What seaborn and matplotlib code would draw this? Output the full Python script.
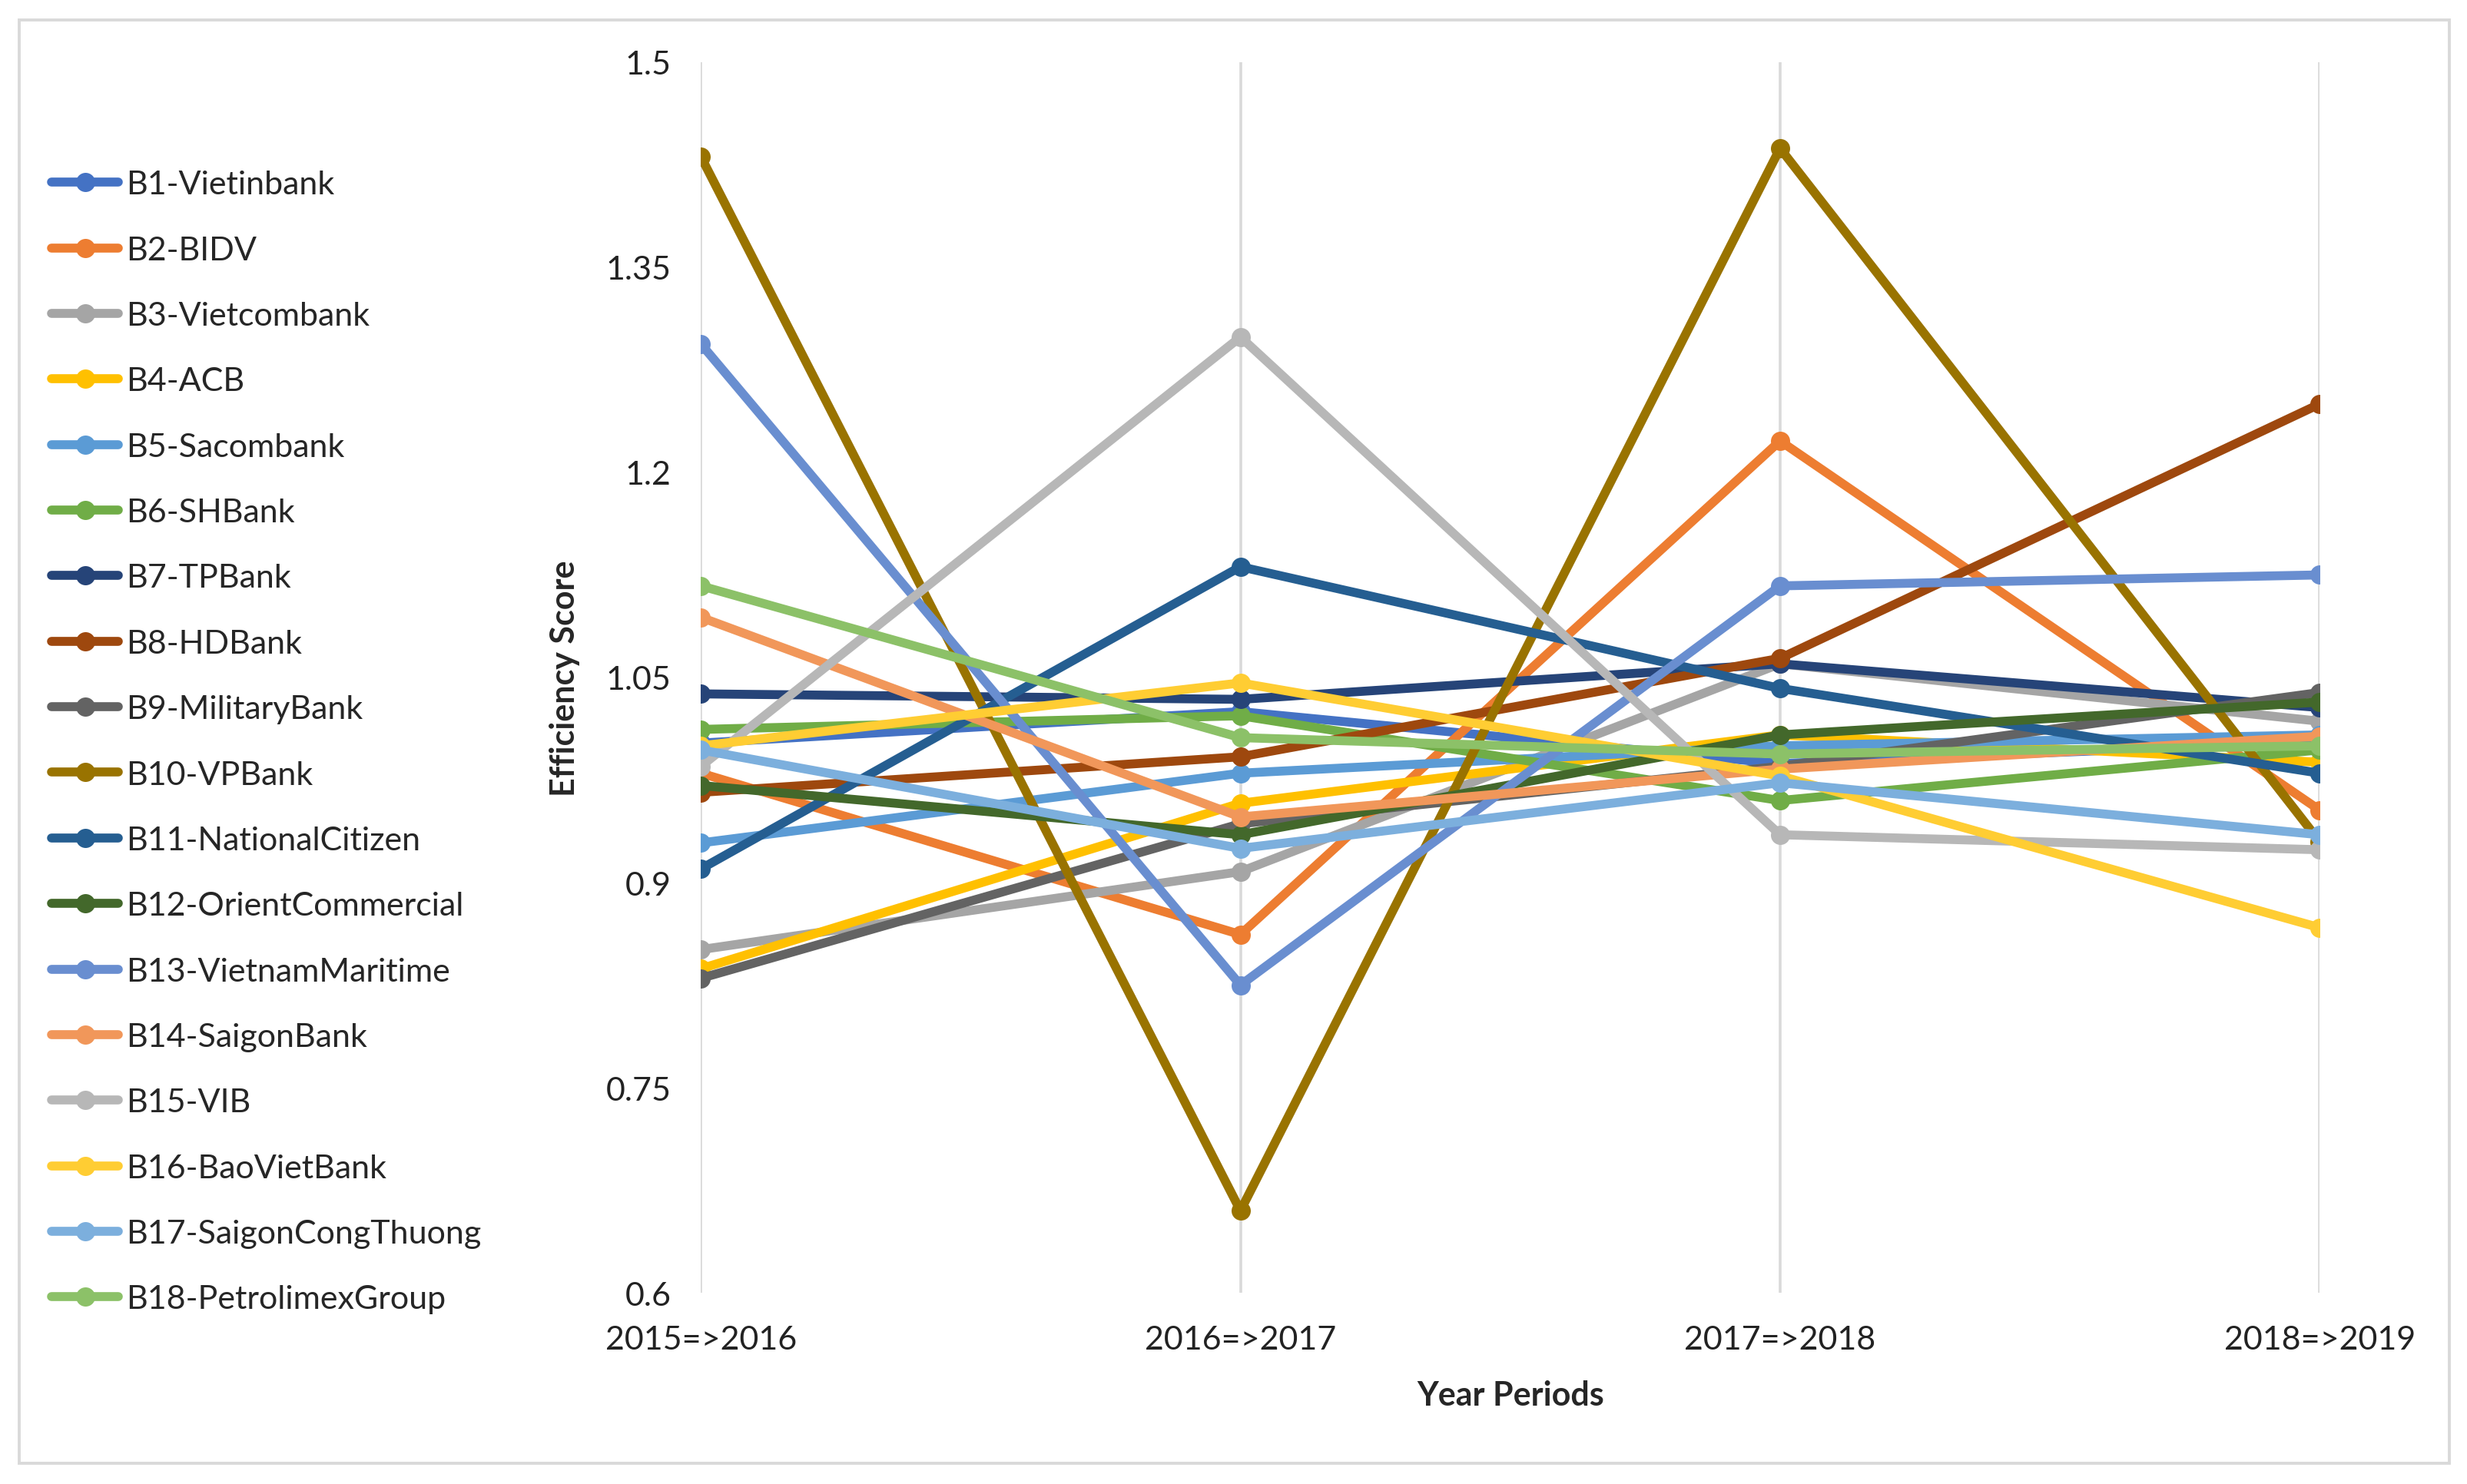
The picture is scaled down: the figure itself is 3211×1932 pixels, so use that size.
import matplotlib
matplotlib.use("Agg")
import matplotlib.pyplot as plt
import seaborn as sns
import pandas as pd
from matplotlib.patches import Rectangle

periods = ["2015=>2016", "2016=>2017", "2017=>2018", "2018=>2019"]
banks = ["B1-Vietinbank", "B2-BIDV", "B3-Vietcombank", "B4-ACB", "B5-Sacombank",
         "B6-SHBank", "B7-TPBank", "B8-HDBank", "B9-MilitaryBank", "B10-VPBank",
         "B11-NationalCitizen", "B12-OrientCommercial", "B13-VietnamMaritime",
         "B14-SaigonBank", "B15-VIB", "B16-BaoVietBank", "B17-SaigonCongThuong",
         "B18-PetrolimexGroup"]

b1 = [1.002, 1.025, 0.987, 1.003]
b2 = [0.980, 0.862, 1.223, 0.953]
b3 = [0.851, 0.908, 1.060, 1.018]
b4 = [0.837, 0.958, 1.008, 0.988]
b5 = [0.929, 0.980, 1.000, 1.008]
b6 = [1.012, 1.022, 0.960, 0.997]
b7 = [1.038, 1.034, 1.060, 1.028]
b8 = [0.966, 0.992, 1.064, 1.250]
b9 = [0.830, 0.943, 0.985, 1.039]
b10 = [1.431, 0.660, 1.437, 0.930]
b11 = [0.910, 1.131, 1.042, 0.980]
b12 = [0.971, 0.935, 1.008, 1.032]
b13 = [1.294, 0.825, 1.117, 1.125]
b14 = [1.094, 0.948, 0.983, 1.007]
b15 = [0.985, 1.299, 0.935, 0.924]
b16 = [1.000, 1.046, 0.978, 0.867]
b17 = [0.997, 0.925, 0.973, 0.935]
b18 = [1.117, 1.006, 0.994, 1.000]
series = [b1, b2, b3, b4, b5, b6, b7, b8, b9, b10, b11, b12, b13, b14, b15, b16, b17, b18]

colors = ["#4472C4", "#ED7D31", "#A5A5A5", "#FFC000", "#5B9BD5", "#70AD47",
          "#264478", "#9E480E", "#636363", "#997300", "#255E91", "#43682B",
          "#698ED0", "#F1975A", "#B7B7B7", "#FFCD33", "#7CAFDD", "#8CC168"]

yticks = [0.6, 0.75, 0.9, 1.05, 1.2, 1.35, 1.5]
ytick_labels = ["0.6", "0.75", "0.9", "1.05", "1.2", "1.35", "1.5"]

rows = []
for name, vals in zip(banks, series):
    for p, v in zip(periods, vals):
        rows.append({"Year Periods": p, "Efficiency Score": v, "Bank": name})
df = pd.DataFrame(rows)

sns.set_theme(style="white")
plt.rcParams["font.family"] = ["Lato", "DejaVu Sans"]

fig = plt.figure(figsize=(16.06, 9.665), dpi=200)
ax = fig.add_axes([0.284, 0.1288, 0.656, 0.8288])

sns.lineplot(data=df, x="Year Periods", y="Efficiency Score", hue="Bank",
             hue_order=banks, palette=dict(zip(banks, colors)), marker="o",
             markersize=9, markeredgewidth=0, linewidth=4.2, sort=False,
             legend=False, ax=ax)

ax.set_ylim(0.6, 1.5)
ax.set_xlim(0, 3)
ax.set_yticks(yticks)
ax.set_yticklabels(ytick_labels)
ax.tick_params(axis="both", labelsize=15.5, length=0, colors="#222222")
ax.tick_params(axis="y", pad=14)
ax.tick_params(axis="x", pad=15)
ax.grid(axis="x", color="#D9D9D9", linewidth=1.3)
ax.grid(axis="y", visible=False)
ax.set_axisbelow(True)
for s in ax.spines.values():
    s.set_visible(False)
ax.set_xlabel("Year Periods", fontsize=15.5, fontweight="bold", labelpad=12)
ax.set_ylabel("Efficiency Score", fontsize=15.5, fontweight="bold", labelpad=12)

handles = ax.get_lines()[:len(banks)]
fig.legend(handles, banks, loc="upper left", bbox_to_anchor=(0.021, 0.885),
           frameon=False, fontsize=15.5, handlelength=2.0, handletextpad=0.25,
           labelspacing=1.1, borderpad=0, borderaxespad=0)

fig.patches.append(Rectangle((25 / 3212, 27 / 1933), (3188 - 25) / 3212, (1906 - 27) / 1933,
                             transform=fig.transFigure, fill=False,
                             edgecolor="#D9D9D9", linewidth=1.4))

fig.savefig("out.png", dpi=200)
